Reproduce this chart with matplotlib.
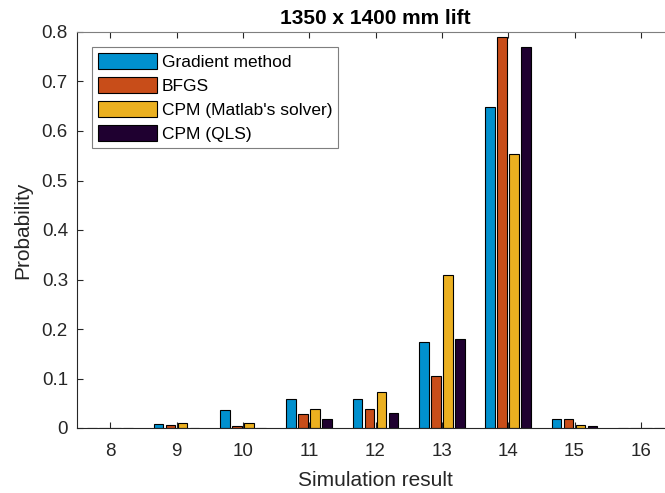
import numpy as np
import matplotlib
matplotlib.use("Agg")
import matplotlib.pyplot as plt

plt.rcParams['font.family'] = ['Liberation Sans', 'DejaVu Sans']

# data
results = [8, 9, 10, 11, 12, 13, 14, 15, 16]
gradient = [0.0, 0.008, 0.036, 0.058, 0.058, 0.174, 0.648, 0.018, 0.0]
bfgs = [0.0, 0.007, 0.004, 0.028, 0.038, 0.105, 0.790, 0.018, 0.0]
cpm_matlab = [0.0, 0.010, 0.011, 0.038, 0.072, 0.310, 0.553, 0.007, 0.0]
cpm_qls = [0.0, 0.0, 0.0, 0.018, 0.031, 0.179, 0.770, 0.004, 0.0]

series = [
    ("Gradient method", gradient, "#0090CE"),
    ("BFGS", bfgs, "#C84D19"),
    ("CPM (Matlab's solver)", cpm_matlab, "#EBB020"),
    ("CPM (QLS)", cpm_qls, "#1F0030"),
]

fig = plt.figure(figsize=(6.65, 4.93), dpi=100)
ax = fig.add_axes([77 / 665, 65 / 493, 597 / 665, 396 / 493])

# matlab-style grouped bars
group_w = 4 / 5.5
step = group_w / 4
x = np.array(results, dtype=float)
for i, (name, vals, col) in enumerate(series):
    offs = (i - 1.5) * step
    ax.bar(x + offs, vals, width=step * 0.8, color=col, edgecolor='black',
           linewidth=0.8, label=name)

ax.set_xlim(7.5, 16.5)
ax.set_ylim(0, 0.8)
ax.set_xticks(results)
ax.set_yticks(np.arange(0, 0.81, 0.1))
ax.set_yticklabels(['0'] + ['%.1f' % v for v in np.arange(0.1, 0.81, 0.1)])
ax.tick_params(direction='in', top=True, right=True, length=4.5,
               labelsize=13.5, colors='#262626')
ax.tick_params(axis='x', pad=10.5)
ax.tick_params(axis='y', pad=6.5)
for s in ax.spines.values():
    s.set_color('#7f7f7f')
    s.set_linewidth(0.8)
ax.spines['bottom'].set_color('#262626')
ax.spines['left'].set_color('#262626')

ax.set_xlabel('Simulation result', fontsize=15, color='#262626', labelpad=8)
ax.set_ylabel('Probability', fontsize=15, color='#262626', labelpad=7)
ax.set_title('1350 x 1400 mm lift', fontsize=15, fontweight='bold', pad=6)

leg = ax.legend(loc='upper left', bbox_to_anchor=(0.025, 0.962), fontsize=12.5,
                fancybox=False, framealpha=1, edgecolor='#7f7f7f',
                handlelength=3.4, handleheight=1.03, handletextpad=0.28,
                labelspacing=0.42, borderpad=0.33, borderaxespad=0.0)
leg.get_frame().set_linewidth(0.8)

fig.savefig('out.png', dpi=100)
